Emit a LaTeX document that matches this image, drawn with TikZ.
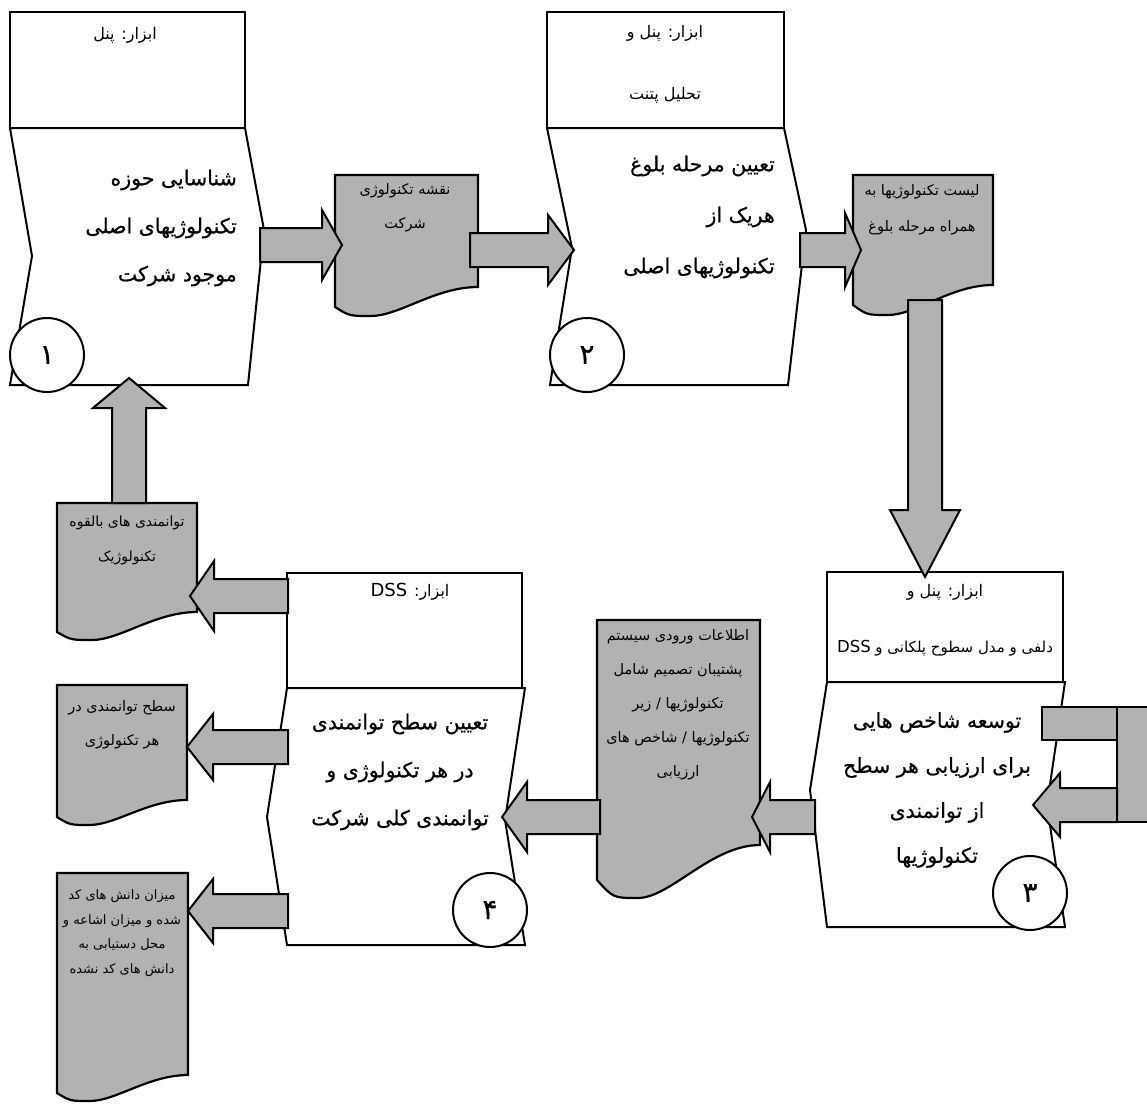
\documentclass[tikz,border=0pt]{standalone}
\usepackage{fontspec}
\newfontfamily\fa[Script=Arabic]{DejaVu Sans}
\newfontfamily\fab[Script=Arabic,FakeBold=0.6]{DejaVu Sans}
\TeXXeTstate=1
\usepackage{tikz}
\usetikzlibrary{calc}

\newcommand{\rl}[1]{\beginR #1\endR}
% block arrows: shaft start, head base, tip, centre, half shaft, half head
\newcommand{\harrow}[6]{\draw[blockarr] (#1,{#4-#5}) -- (#2,{#4-#5}) -- (#2,{#4-#6}) -- (#3,#4)
  -- (#2,{#4+#6}) -- (#2,{#4+#5}) -- (#1,{#4+#5}) -- cycle;}
\newcommand{\varrow}[6]{\draw[blockarr] ({#4-#5},#1) -- ({#4-#5},#2) -- ({#4-#6},#2) -- (#4,#3)
  -- ({#4+#6},#2) -- ({#4+#5},#2) -- ({#4+#5},#1) -- cycle;}
% document shape: left, right, top, bottom left, dip, bottom right
\newcommand{\docshape}[6]{\draw[docbody] (#1,#3) -- (#2,#3) -- (#2,#6)
  .. controls ({#2-0.3*(#2-#1)},#6) and ({#1+0.45*(#2-#1)},#5) .. ({#1+0.25*(#2-#1)},#5)
  .. controls ({#1+0.1*(#2-#1)},#5) .. (#1,#4) -- cycle;}

\begin{document}
\begin{tikzpicture}[x=1pt,y=-1pt,
    toolbox/.style={draw=black,line width=2pt,fill=white},
    procbody/.style={draw=black,line width=2pt,fill=white,line join=miter},
    docbody/.style={draw=black,line width=2.2pt,fill=black!30},
    blockarr/.style={draw=black,line width=2pt,fill=black!30,line join=miter},
    stepnum/.style={draw=black,line width=2pt,fill=white,circle,
      minimum size=74pt,inner sep=0pt,font=\fab\fontsize{28}{28}\selectfont},
    tooltext/.style={font=\fa\fontsize{16}{18}\selectfont,inner sep=0pt},
    maintext/.style={font=\fab\fontsize{20.5}{48}\selectfont,inner sep=0pt},
    doctext/.style={font=\fa\fontsize{14.5}{34}\selectfont,inner sep=0pt,align=center}
  ]
    \useasboundingbox (0,0) rectangle (1147,1108);
    \clip (0,0) rectangle (1147,1108);

    % process boxes
    \draw[toolbox] (10,12) rectangle (245,128);
    \draw[procbody] (10,128) -- (245,128) -- (264,230) -- (248,385) -- (10,385) -- (32,256) -- cycle;
    \draw[toolbox] (547,12) rectangle (784,128);
    \draw[procbody] (547,128) -- (784,128) -- (806,230) -- (788,385) -- (550,385) -- (572,248) -- cycle;
    \draw[toolbox] (827,572) rectangle (1063,682);
    \draw[procbody] (827,682) -- (1065,682) -- (1047,805) -- (1065,927) -- (827,927) -- (810,790) -- cycle;
    \draw[toolbox] (287,573) rectangle (522,688);
    \draw[procbody] (287,688) -- (525,688) -- (505,820) -- (525,945) -- (287,945) -- (267,817) -- cycle;

    % documents
    \docshape{335}{478}{175}{307}{316}{287}
    \docshape{853}{993}{175}{305}{315}{285}
    \docshape{597}{760}{620}{880}{898}{845}
    \docshape{57}{197}{503}{632}{640}{612}
    \docshape{57}{187}{685}{817}{825}{800}
    \docshape{57}{188}{873}{1093}{1101}{1075}
    \draw[docbody] (1117,707) rectangle (1170,822);
    \draw[blockarr] (1042,707) rectangle (1117,740);

    % flow arrows
    \harrow{260}{322}{342}{245}{17}{35}
    \harrow{470}{548}{574}{250}{17}{35}
    \harrow{800}{845}{861}{250}{17}{37}
    \varrow{300}{510}{577}{925}{17}{35}
    \harrow{1117}{1060}{1033}{805}{17}{32}
    \harrow{815}{770}{752}{817}{17}{35}
    \harrow{600}{527}{502}{817}{17}{35}
    \harrow{288}{214}{190}{596}{17}{35}
    \harrow{288}{213}{187}{747}{17}{33}
    \harrow{288}{213}{188}{911}{17}{32}
    \varrow{503}{408}{378}{129}{17}{36}

    % step numbers
    \node[stepnum] (n1) at (47,355) {۱};
    \node[stepnum] (n2) at (587,355) {۲};
    \node[stepnum] (n3) at (1030,893) {۳};
    \node[stepnum] (n4) at (490,910) {۴};

    % tools
    \node[tooltext] (t1) at (125,35) {\rl{ابزار: پنل}};
    \node[tooltext,align=center,font=\fa\fontsize{16}{62}\selectfont] (t2) at (665,64)
      {\rl{ابزار: پنل و}\\\rl{تحلیل پتنت}};
    \node[tooltext,align=center,font=\fa\fontsize{16}{56}\selectfont] (t3) at (945,620)
      {\rl{ابزار: پنل و}\\{\fontsize{15}{56}\selectfont\rl{دلفی و مدل سطوح پلکانی و \beginL{\fontsize{16.5}{16.5}\selectfont DSS}\endL}}};
    \node[tooltext] (t4) at (410,592)
      {\rl{ابزار: \beginL{\fontsize{18}{18}\selectfont DSS}\endL}};

    % steps
    \node[maintext,align=right,anchor=east] (m1) at (237,228)
      {\rl{شناسایی حوزه}\\\rl{تکنولوژیهای اصلی}\\\rl{موجود شرکت}};
    \node[maintext,align=right,anchor=east,font=\fab\fontsize{20.5}{51}\selectfont] (m2) at (775,217)
      {\rl{تعیین مرحله بلوغ}\\\rl{هریک از}\\\rl{تکنولوژیهای اصلی}};
    \node[maintext,align=center,font=\fab\fontsize{20.5}{45}\selectfont] (m3) at (937,790)
      {\rl{توسعه شاخص هایی}\\\rl{برای ارزیابی هر سطح}\\\rl{از توانمندی}\\\rl{تکنولوژیها}};
    \node[maintext,align=center] (m4) at (400,772)
      {\rl{تعیین سطح توانمندی}\\\rl{در هر تکنولوژی و}\\\rl{توانمندی کلی شرکت}};

    % outputs
    \node[doctext] (d1) at (405,208) {\rl{نقشه تکنولوژی}\\\rl{شرکت}};
    \node[doctext,font=\fa\fontsize{14.5}{36}\selectfont] (d2) at (922,210)
      {\rl{لیست تکنولوژیها به}\\\rl{همراه مرحله بلوغ}};
    \node[doctext] (d3) at (678,705)
      {\rl{اطلاعات ورودی سیستم}\\\rl{پشتیبان تصمیم شامل}\\\rl{تکنولوژیها / زیر}\\\rl{تکنولوژیها / شاخص های}\\\rl{ارزیابی}};
    \node[doctext,font=\fa\fontsize{14}{35}\selectfont] (d4) at (127,540)
      {\rl{توانمندی های بالقوه}\\\rl{تکنولوژیک}};
    \node[doctext] (d5) at (122,725) {\rl{سطح توانمندی در}\\\rl{هر تکنولوژی}};
    \node[doctext,font=\fa\fontsize{13}{24.5}\selectfont] (d6) at (122,933)
      {\rl{میزان دانش های کد}\\\rl{شده و میزان اشاعه و}\\\rl{محل دستیابی به}\\\rl{دانش های کد نشده}};
  \end{tikzpicture}
\end{document}
